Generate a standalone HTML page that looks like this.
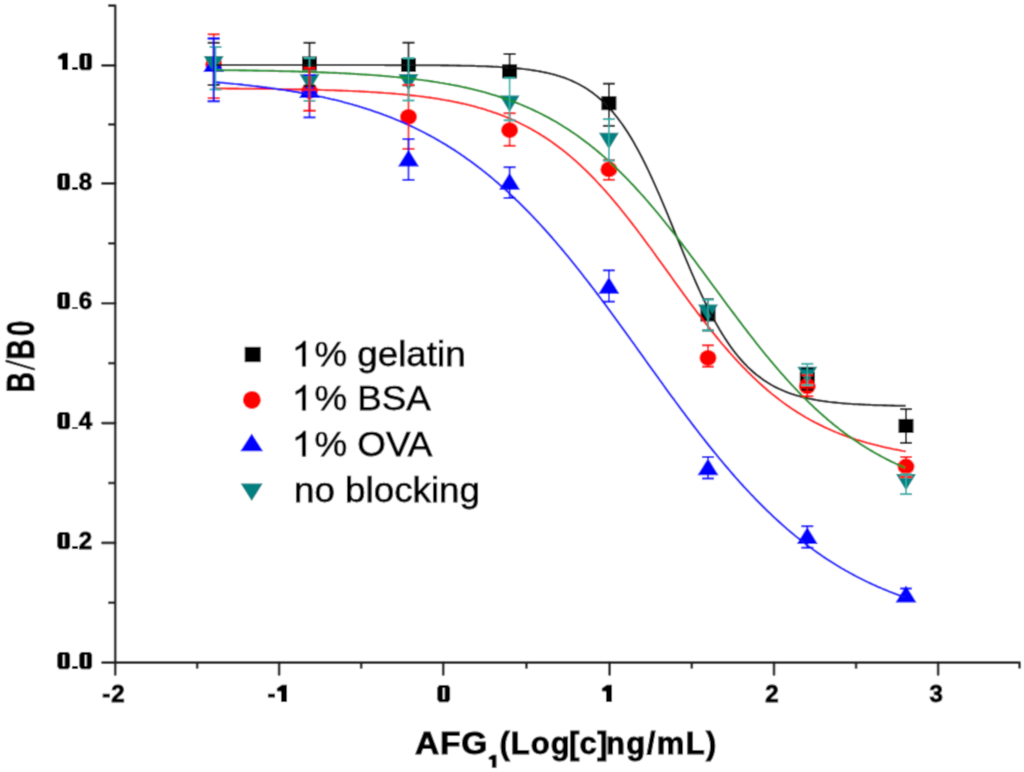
<!DOCTYPE html>
<html><head><meta charset="utf-8"><style>
html,body{margin:0;padding:0;background:#fff;}
body{width:1024px;height:772px;position:relative;overflow:hidden;font-family:"Liberation Sans",sans-serif;}
svg{position:absolute;left:0;top:0;}
.yl{position:absolute;left:21.2px;width:72px;text-align:right;font-weight:bold;font-size:24px;line-height:24px;color:#000;-webkit-text-stroke:1px #000;letter-spacing:1px;}
.xl{position:absolute;top:681.5px;width:80px;text-align:center;font-weight:bold;font-size:24px;line-height:24px;color:#000;-webkit-text-stroke:1px #000;letter-spacing:1px;text-indent:1px;}
.lg{position:absolute;left:294px;font-size:35px;line-height:35px;color:#000;-webkit-text-stroke:0.75px #000;transform:scaleX(1.05);transform-origin:0 0;white-space:nowrap;}
.t{position:absolute;top:727.5px;font-weight:bold;font-size:31px;line-height:31px;color:#000;white-space:nowrap;-webkit-text-stroke:1px #000;transform-origin:0 0;}
#wrap{position:absolute;left:0;top:0;width:1024px;height:772px;background:#fff;filter:url(#soft);}
</style></head><body>
<svg width="0" height="0" style="position:absolute;left:0;top:0"><filter id="soft" x="0" y="0" width="100%" height="100%"><feConvolveMatrix order="3" kernelMatrix="0.02768 0.11101 0.02768 0.11101 0.44521 0.11101 0.02768 0.11101 0.02768" divisor="1" edgeMode="duplicate"/></filter></svg>
<div id="wrap">
<svg width="1024" height="772" viewBox="0 0 1024 772">
<path d="M108.2,5.6 H115.2 V662.6 H1019.5 V668.6" fill="none" stroke="#222" stroke-width="2.6" stroke-linejoin="round"/>
<line x1="102.4" y1="662.6" x2="115.2" y2="662.6" stroke="#222" stroke-width="2.6" stroke-linecap="round"/>
<line x1="102.4" y1="542.9" x2="115.2" y2="542.9" stroke="#222" stroke-width="2.6" stroke-linecap="round"/>
<line x1="102.4" y1="423.1" x2="115.2" y2="423.1" stroke="#222" stroke-width="2.6" stroke-linecap="round"/>
<line x1="102.4" y1="303.2" x2="115.2" y2="303.2" stroke="#222" stroke-width="2.6" stroke-linecap="round"/>
<line x1="102.4" y1="183.4" x2="115.2" y2="183.4" stroke="#222" stroke-width="2.6" stroke-linecap="round"/>
<line x1="102.4" y1="65.4" x2="115.2" y2="65.4" stroke="#222" stroke-width="2.6" stroke-linecap="round"/>
<line x1="108.2" y1="124.4" x2="115.2" y2="124.4" stroke="#222" stroke-width="2.6"/>
<line x1="108.2" y1="243.3" x2="115.2" y2="243.3" stroke="#222" stroke-width="2.6"/>
<line x1="108.2" y1="363.15" x2="115.2" y2="363.15" stroke="#222" stroke-width="2.6"/>
<line x1="108.2" y1="483.0" x2="115.2" y2="483.0" stroke="#222" stroke-width="2.6"/>
<line x1="108.2" y1="602.75" x2="115.2" y2="602.75" stroke="#222" stroke-width="2.6"/>
<line x1="115.2" y1="662.6" x2="115.2" y2="674.6" stroke="#222" stroke-width="2.6" stroke-linecap="round"/>
<line x1="279.1" y1="662.6" x2="279.1" y2="674.6" stroke="#222" stroke-width="2.6" stroke-linecap="round"/>
<line x1="443.2" y1="662.6" x2="443.2" y2="674.6" stroke="#222" stroke-width="2.6" stroke-linecap="round"/>
<line x1="609.6" y1="662.6" x2="609.6" y2="674.6" stroke="#222" stroke-width="2.6" stroke-linecap="round"/>
<line x1="774.0" y1="662.6" x2="774.0" y2="674.6" stroke="#222" stroke-width="2.6" stroke-linecap="round"/>
<line x1="938.1" y1="662.6" x2="938.1" y2="674.6" stroke="#222" stroke-width="2.6" stroke-linecap="round"/>
<line x1="197.15" y1="662.6" x2="197.15" y2="668.6" stroke="#222" stroke-width="2.6"/>
<line x1="361.15" y1="662.6" x2="361.15" y2="668.6" stroke="#222" stroke-width="2.6"/>
<line x1="526.4" y1="662.6" x2="526.4" y2="668.6" stroke="#222" stroke-width="2.6"/>
<line x1="691.8" y1="662.6" x2="691.8" y2="668.6" stroke="#222" stroke-width="2.6"/>
<line x1="856.05" y1="662.6" x2="856.05" y2="668.6" stroke="#222" stroke-width="2.6"/>
<rect x="206.2" y="57.400000000000006" width="15" height="14" fill="#000"/>
<rect x="302.0" y="56.5" width="15" height="14" fill="#000"/>
<rect x="401.0" y="58.0" width="15" height="14" fill="#000"/>
<rect x="502.1" y="64.3" width="15" height="14" fill="#000"/>
<rect x="601.4" y="96.2" width="15" height="14" fill="#000"/>
<rect x="700.5" y="307.5" width="15" height="14" fill="#000"/>
<rect x="799.8" y="372.0" width="15" height="14" fill="#000"/>
<rect x="898.5" y="418.9" width="15" height="14" fill="#000"/>
<ellipse cx="213.7" cy="64.4" rx="8.5" ry="7.9" fill="#f00"/>
<ellipse cx="309.5" cy="91.0" rx="8.5" ry="7.9" fill="#f00"/>
<ellipse cx="408.5" cy="116.8" rx="8.5" ry="7.9" fill="#f00"/>
<ellipse cx="509.6" cy="130.2" rx="8.5" ry="7.9" fill="#f00"/>
<ellipse cx="608.9" cy="169.4" rx="8.5" ry="7.9" fill="#f00"/>
<ellipse cx="708.0" cy="357.9" rx="8.5" ry="7.9" fill="#f00"/>
<ellipse cx="807.3" cy="386.3" rx="8.5" ry="7.9" fill="#f00"/>
<ellipse cx="906.0" cy="466.5" rx="8.5" ry="7.9" fill="#f00"/>
<polygon points="213.7,55.0 224.2,72.0 203.2,72.0" fill="#00f"/>
<polygon points="309.5,81.0 320.0,98.0 299.0,98.0" fill="#00f"/>
<polygon points="408.5,149.6 419.0,166.6 398.0,166.6" fill="#00f"/>
<polygon points="509.6,172.8 520.1,189.8 499.1,189.8" fill="#00f"/>
<polygon points="608.9,276.7 619.4,293.7 598.4,293.7" fill="#00f"/>
<polygon points="708.0,458.2 718.5,475.2 697.5,475.2" fill="#00f"/>
<polygon points="807.3,527.0 817.8,544.0 796.8,544.0" fill="#00f"/>
<polygon points="906.0,585.5 916.5,602.5 895.5,602.5" fill="#00f"/>
<polygon points="203.7,56.0 223.7,56.0 213.7,72.5" fill="#008080"/>
<polygon points="299.5,74.3 319.5,74.3 309.5,90.8" fill="#008080"/>
<polygon points="398.5,74.0 418.5,74.0 408.5,90.5" fill="#008080"/>
<polygon points="499.6,95.6 519.6,95.6 509.6,112.1" fill="#008080"/>
<polygon points="598.9,132.8 618.9,132.8 608.9,149.3" fill="#008080"/>
<polygon points="698.0,304.6 718.0,304.6 708.0,321.1" fill="#008080"/>
<polygon points="797.3,366.7 817.3,366.7 807.3,383.2" fill="#008080"/>
<polygon points="896.0,474.0 916.0,474.0 906.0,490.5" fill="#008080"/>
<polyline points="213.7,65.0 215.7,65.0 217.7,65.0 219.7,65.0 221.7,65.0 223.7,65.0 225.7,65.0 227.7,65.0 229.7,65.0 231.7,65.0 233.7,65.0 235.7,65.0 237.7,65.0 239.7,65.0 241.7,65.0 243.7,65.0 245.7,65.0 247.7,65.0 249.7,65.0 251.7,65.0 253.7,65.0 255.7,65.0 257.7,65.0 259.7,65.0 261.7,65.0 263.7,65.0 265.7,65.0 267.7,65.0 269.7,65.0 271.7,65.0 273.7,65.0 275.7,65.0 277.7,65.0 279.7,65.0 281.7,65.0 283.7,65.0 285.7,65.0 287.7,65.0 289.7,65.0 291.7,65.0 293.7,65.0 295.7,65.0 297.7,65.0 299.7,65.0 301.7,65.0 303.7,65.0 305.7,65.0 307.7,65.0 309.7,65.0 311.7,65.0 313.7,65.0 315.7,65.0 317.7,65.0 319.7,65.0 321.7,65.0 323.7,65.0 325.7,65.0 327.7,65.0 329.7,65.0 331.7,65.0 333.7,65.0 335.7,65.0 337.7,65.0 339.7,65.0 341.7,65.0 343.7,65.0 345.7,65.0 347.7,65.0 349.7,65.0 351.7,65.0 353.7,65.0 355.7,65.0 357.7,65.0 359.7,65.0 361.7,65.0 363.7,65.0 365.7,65.0 367.7,65.0 369.7,65.0 371.7,65.0 373.7,65.0 375.7,65.0 377.7,65.0 379.7,65.0 381.7,65.0 383.7,65.0 385.7,65.1 387.7,65.1 389.7,65.1 391.7,65.1 393.7,65.1 395.7,65.1 397.7,65.1 399.7,65.1 401.7,65.1 403.7,65.1 405.7,65.1 407.7,65.1 409.7,65.1 411.7,65.1 413.7,65.1 415.7,65.2 417.7,65.2 419.7,65.2 421.7,65.2 423.7,65.2 425.7,65.2 427.7,65.2 429.7,65.2 431.7,65.3 433.7,65.3 435.7,65.3 437.7,65.3 439.7,65.3 441.7,65.4 443.7,65.4 445.7,65.4 447.7,65.4 449.7,65.5 451.7,65.5 453.7,65.5 455.7,65.5 457.7,65.6 459.7,65.6 461.7,65.7 463.7,65.7 465.7,65.7 467.7,65.8 469.7,65.8 471.7,65.9 473.7,65.9 475.7,66.0 477.7,66.1 479.7,66.1 481.7,66.2 483.7,66.3 485.7,66.3 487.7,66.4 489.7,66.5 491.7,66.6 493.7,66.7 495.7,66.8 497.7,66.9 499.7,67.0 501.7,67.1 503.7,67.3 505.7,67.4 507.7,67.5 509.7,67.7 511.7,67.8 513.7,68.0 515.7,68.2 517.7,68.4 519.7,68.6 521.7,68.8 523.7,69.0 525.7,69.3 527.7,69.5 529.7,69.8 531.7,70.1 533.7,70.4 535.7,70.7 537.7,71.0 539.7,71.4 541.7,71.8 543.7,72.2 545.7,72.6 547.7,73.0 549.7,73.5 551.7,74.0 553.7,74.5 555.7,75.1 557.7,75.7 559.7,76.3 561.7,76.9 563.7,77.6 565.7,78.3 567.7,79.1 569.7,79.9 571.7,80.8 573.7,81.7 575.7,82.6 577.7,83.6 579.7,84.7 581.7,85.8 583.7,86.9 585.7,88.2 587.7,89.4 589.7,90.8 591.7,92.2 593.7,93.7 595.7,95.3 597.7,96.9 599.7,98.6 601.7,100.4 603.7,102.3 605.7,104.3 607.7,106.4 609.7,108.5 611.7,110.8 613.7,113.1 615.7,115.6 617.7,118.1 619.7,120.8 621.7,123.5 623.7,126.4 625.7,129.4 627.7,132.4 629.7,135.6 631.7,138.9 633.7,142.3 635.7,145.9 637.7,149.5 639.7,153.2 641.7,157.0 643.7,161.0 645.7,165.0 647.7,169.1 649.7,173.4 651.7,177.7 653.7,182.1 655.7,186.6 657.7,191.1 659.7,195.7 661.7,200.4 663.7,205.1 665.7,209.9 667.7,214.7 669.7,219.6 671.7,224.5 673.7,229.4 675.7,234.3 677.7,239.2 679.7,244.1 681.7,248.9 683.7,253.8 685.7,258.6 687.7,263.4 689.7,268.1 691.7,272.8 693.7,277.4 695.7,282.0 697.7,286.5 699.7,290.9 701.7,295.2 703.7,299.4 705.7,303.6 707.7,307.6 709.7,311.6 711.7,315.4 713.7,319.2 715.7,322.8 717.7,326.3 719.7,329.8 721.7,333.1 723.7,336.3 725.7,339.4 727.7,342.4 729.7,345.3 731.7,348.1 733.7,350.8 735.7,353.4 737.7,355.9 739.7,358.2 741.7,360.5 743.7,362.7 745.7,364.8 747.7,366.9 749.7,368.8 751.7,370.6 753.7,372.4 755.7,374.1 757.7,375.7 759.7,377.2 761.7,378.7 763.7,380.1 765.7,381.4 767.7,382.7 769.7,383.9 771.7,385.1 773.7,386.2 775.7,387.2 777.7,388.2 779.7,389.1 781.7,390.0 783.7,390.9 785.7,391.7 787.7,392.5 789.7,393.2 791.7,393.9 793.7,394.5 795.7,395.2 797.7,395.8 799.7,396.3 801.7,396.9 803.7,397.4 805.7,397.8 807.7,398.3 809.7,398.7 811.7,399.1 813.7,399.5 815.7,399.9 817.7,400.2 819.7,400.6 821.7,400.9 823.7,401.2 825.7,401.4 827.7,401.7 829.7,402.0 831.7,402.2 833.7,402.4 835.7,402.6 837.7,402.8 839.7,403.0 841.7,403.2 843.7,403.4 845.7,403.5 847.7,403.7 849.7,403.8 851.7,404.0 853.7,404.1 855.7,404.2 857.7,404.3 859.7,404.4 861.7,404.5 863.7,404.6 865.7,404.7 867.7,404.8 869.7,404.9 871.7,405.0 873.7,405.1 875.7,405.1 877.7,405.2 879.7,405.3 881.7,405.3 883.7,405.4 885.7,405.4 887.7,405.5 889.7,405.5 891.7,405.6 893.7,405.6 895.7,405.7 897.7,405.7 899.7,405.7 901.7,405.8 903.7,405.8 905.7,405.8" fill="none" stroke="#111" stroke-width="2.1" stroke-linejoin="round"/>
<polyline points="213.7,88.5 215.7,88.5 217.7,88.5 219.7,88.5 221.7,88.5 223.7,88.5 225.7,88.5 227.7,88.6 229.7,88.6 231.7,88.6 233.7,88.6 235.7,88.6 237.7,88.6 239.7,88.7 241.7,88.7 243.7,88.7 245.7,88.7 247.7,88.7 249.7,88.7 251.7,88.8 253.7,88.8 255.7,88.8 257.7,88.8 259.7,88.8 261.7,88.9 263.7,88.9 265.7,88.9 267.7,88.9 269.7,89.0 271.7,89.0 273.7,89.0 275.7,89.0 277.7,89.1 279.7,89.1 281.7,89.1 283.7,89.2 285.7,89.2 287.7,89.2 289.7,89.3 291.7,89.3 293.7,89.3 295.7,89.4 297.7,89.4 299.7,89.4 301.7,89.5 303.7,89.5 305.7,89.6 307.7,89.6 309.7,89.7 311.7,89.7 313.7,89.8 315.7,89.8 317.7,89.9 319.7,89.9 321.7,90.0 323.7,90.0 325.7,90.1 327.7,90.1 329.7,90.2 331.7,90.3 333.7,90.3 335.7,90.4 337.7,90.5 339.7,90.6 341.7,90.6 343.7,90.7 345.7,90.8 347.7,90.9 349.7,91.0 351.7,91.0 353.7,91.1 355.7,91.2 357.7,91.3 359.7,91.4 361.7,91.5 363.7,91.6 365.7,91.7 367.7,91.8 369.7,92.0 371.7,92.1 373.7,92.2 375.7,92.3 377.7,92.5 379.7,92.6 381.7,92.7 383.7,92.9 385.7,93.0 387.7,93.2 389.7,93.3 391.7,93.5 393.7,93.6 395.7,93.8 397.7,94.0 399.7,94.2 401.7,94.3 403.7,94.5 405.7,94.7 407.7,94.9 409.7,95.1 411.7,95.4 413.7,95.6 415.7,95.8 417.7,96.0 419.7,96.3 421.7,96.5 423.7,96.8 425.7,97.1 427.7,97.3 429.7,97.6 431.7,97.9 433.7,98.2 435.7,98.5 437.7,98.8 439.7,99.1 441.7,99.5 443.7,99.8 445.7,100.2 447.7,100.5 449.7,100.9 451.7,101.3 453.7,101.7 455.7,102.1 457.7,102.5 459.7,102.9 461.7,103.4 463.7,103.8 465.7,104.3 467.7,104.8 469.7,105.3 471.7,105.8 473.7,106.3 475.7,106.8 477.7,107.4 479.7,107.9 481.7,108.5 483.7,109.1 485.7,109.7 487.7,110.4 489.7,111.0 491.7,111.7 493.7,112.4 495.7,113.1 497.7,113.8 499.7,114.5 501.7,115.3 503.7,116.1 505.7,116.9 507.7,117.7 509.7,118.5 511.7,119.4 513.7,120.3 515.7,121.2 517.7,122.1 519.7,123.1 521.7,124.1 523.7,125.1 525.7,126.1 527.7,127.2 529.7,128.2 531.7,129.3 533.7,130.5 535.7,131.6 537.7,132.8 539.7,134.0 541.7,135.3 543.7,136.5 545.7,137.8 547.7,139.2 549.7,140.5 551.7,141.9 553.7,143.3 555.7,144.8 557.7,146.3 559.7,147.8 561.7,149.3 563.7,150.9 565.7,152.5 567.7,154.1 569.7,155.8 571.7,157.5 573.7,159.2 575.7,161.0 577.7,162.8 579.7,164.6 581.7,166.5 583.7,168.4 585.7,170.3 587.7,172.3 589.7,174.3 591.7,176.3 593.7,178.3 595.7,180.4 597.7,182.6 599.7,184.7 601.7,186.9 603.7,189.1 605.7,191.3 607.7,193.6 609.7,195.9 611.7,198.2 613.7,200.6 615.7,203.0 617.7,205.4 619.7,207.8 621.7,210.3 623.7,212.8 625.7,215.3 627.7,217.8 629.7,220.4 631.7,223.0 633.7,225.6 635.7,228.2 637.7,230.8 639.7,233.5 641.7,236.2 643.7,238.9 645.7,241.6 647.7,244.3 649.7,247.0 651.7,249.7 653.7,252.5 655.7,255.3 657.7,258.0 659.7,260.8 661.7,263.6 663.7,266.3 665.7,269.1 667.7,271.9 669.7,274.7 671.7,277.5 673.7,280.3 675.7,283.0 677.7,285.8 679.7,288.6 681.7,291.3 683.7,294.1 685.7,296.8 687.7,299.5 689.7,302.3 691.7,305.0 693.7,307.6 695.7,310.3 697.7,313.0 699.7,315.6 701.7,318.2 703.7,320.8 705.7,323.4 707.7,326.0 709.7,328.5 711.7,331.0 713.7,333.5 715.7,336.0 717.7,338.5 719.7,340.9 721.7,343.3 723.7,345.7 725.7,348.0 727.7,350.3 729.7,352.6 731.7,354.9 733.7,357.1 735.7,359.3 737.7,361.5 739.7,363.6 741.7,365.7 743.7,367.8 745.7,369.8 747.7,371.9 749.7,373.8 751.7,375.8 753.7,377.7 755.7,379.6 757.7,381.5 759.7,383.3 761.7,385.1 763.7,386.9 765.7,388.6 767.7,390.4 769.7,392.0 771.7,393.7 773.7,395.3 775.7,396.9 777.7,398.4 779.7,400.0 781.7,401.5 783.7,403.0 785.7,404.4 787.7,405.8 789.7,407.2 791.7,408.6 793.7,409.9 795.7,411.2 797.7,412.5 799.7,413.7 801.7,414.9 803.7,416.1 805.7,417.3 807.7,418.4 809.7,419.6 811.7,420.7 813.7,421.7 815.7,422.8 817.7,423.8 819.7,424.8 821.7,425.8 823.7,426.8 825.7,427.7 827.7,428.6 829.7,429.5 831.7,430.4 833.7,431.2 835.7,432.1 837.7,432.9 839.7,433.7 841.7,434.4 843.7,435.2 845.7,435.9 847.7,436.7 849.7,437.4 851.7,438.1 853.7,438.7 855.7,439.4 857.7,440.0 859.7,440.6 861.7,441.2 863.7,441.8 865.7,442.4 867.7,443.0 869.7,443.5 871.7,444.1 873.7,444.6 875.7,445.1 877.7,445.6 879.7,446.1 881.7,446.6 883.7,447.0 885.7,447.5 887.7,447.9 889.7,448.3 891.7,448.7 893.7,449.2 895.7,449.5 897.7,449.9 899.7,450.3 901.7,450.7 903.7,451.0 905.7,451.4" fill="none" stroke="#ff1010" stroke-width="2.1" stroke-linejoin="round"/>
<polyline points="213.7,82.1 215.7,82.3 217.7,82.4 219.7,82.6 221.7,82.8 223.7,82.9 225.7,83.1 227.7,83.3 229.7,83.5 231.7,83.7 233.7,83.9 235.7,84.0 237.7,84.2 239.7,84.4 241.7,84.6 243.7,84.9 245.7,85.1 247.7,85.3 249.7,85.5 251.7,85.7 253.7,86.0 255.7,86.2 257.7,86.4 259.7,86.7 261.7,86.9 263.7,87.2 265.7,87.4 267.7,87.7 269.7,87.9 271.7,88.2 273.7,88.5 275.7,88.8 277.7,89.1 279.7,89.4 281.7,89.7 283.7,90.0 285.7,90.3 287.7,90.6 289.7,90.9 291.7,91.2 293.7,91.6 295.7,91.9 297.7,92.2 299.7,92.6 301.7,92.9 303.7,93.3 305.7,93.7 307.7,94.1 309.7,94.4 311.7,94.8 313.7,95.2 315.7,95.6 317.7,96.0 319.7,96.5 321.7,96.9 323.7,97.3 325.7,97.8 327.7,98.2 329.7,98.7 331.7,99.2 333.7,99.6 335.7,100.1 337.7,100.6 339.7,101.1 341.7,101.6 343.7,102.2 345.7,102.7 347.7,103.2 349.7,103.8 351.7,104.3 353.7,104.9 355.7,105.5 357.7,106.1 359.7,106.7 361.7,107.3 363.7,107.9 365.7,108.5 367.7,109.2 369.7,109.8 371.7,110.5 373.7,111.2 375.7,111.9 377.7,112.6 379.7,113.3 381.7,114.0 383.7,114.8 385.7,115.5 387.7,116.3 389.7,117.0 391.7,117.8 393.7,118.6 395.7,119.5 397.7,120.3 399.7,121.1 401.7,122.0 403.7,122.9 405.7,123.7 407.7,124.6 409.7,125.6 411.7,126.5 413.7,127.4 415.7,128.4 417.7,129.4 419.7,130.4 421.7,131.4 423.7,132.4 425.7,133.4 427.7,134.5 429.7,135.5 431.7,136.6 433.7,137.7 435.7,138.9 437.7,140.0 439.7,141.2 441.7,142.3 443.7,143.5 445.7,144.7 447.7,146.0 449.7,147.2 451.7,148.5 453.7,149.7 455.7,151.0 457.7,152.4 459.7,153.7 461.7,155.1 463.7,156.4 465.7,157.8 467.7,159.3 469.7,160.7 471.7,162.1 473.7,163.6 475.7,165.1 477.7,166.6 479.7,168.2 481.7,169.7 483.7,171.3 485.7,172.9 487.7,174.5 489.7,176.1 491.7,177.8 493.7,179.5 495.7,181.2 497.7,182.9 499.7,184.7 501.7,186.4 503.7,188.2 505.7,190.0 507.7,191.8 509.7,193.7 511.7,195.6 513.7,197.4 515.7,199.4 517.7,201.3 519.7,203.2 521.7,205.2 523.7,207.2 525.7,209.2 527.7,211.3 529.7,213.3 531.7,215.4 533.7,217.5 535.7,219.6 537.7,221.8 539.7,223.9 541.7,226.1 543.7,228.3 545.7,230.5 547.7,232.8 549.7,235.0 551.7,237.3 553.7,239.6 555.7,241.9 557.7,244.3 559.7,246.6 561.7,249.0 563.7,251.4 565.7,253.8 567.7,256.2 569.7,258.7 571.7,261.1 573.7,263.6 575.7,266.1 577.7,268.6 579.7,271.2 581.7,273.7 583.7,276.3 585.7,278.8 587.7,281.4 589.7,284.0 591.7,286.6 593.7,289.2 595.7,291.9 597.7,294.5 599.7,297.2 601.7,299.9 603.7,302.5 605.7,305.2 607.7,307.9 609.7,310.7 611.7,313.4 613.7,316.1 615.7,318.8 617.7,321.6 619.7,324.3 621.7,327.1 623.7,329.9 625.7,332.6 627.7,335.4 629.7,338.2 631.7,341.0 633.7,343.7 635.7,346.5 637.7,349.3 639.7,352.1 641.7,354.9 643.7,357.7 645.7,360.5 647.7,363.3 649.7,366.1 651.7,368.9 653.7,371.6 655.7,374.4 657.7,377.2 659.7,380.0 661.7,382.7 663.7,385.5 665.7,388.3 667.7,391.0 669.7,393.8 671.7,396.5 673.7,399.2 675.7,402.0 677.7,404.7 679.7,407.4 681.7,410.1 683.7,412.7 685.7,415.4 687.7,418.1 689.7,420.7 691.7,423.4 693.7,426.0 695.7,428.6 697.7,431.2 699.7,433.8 701.7,436.4 703.7,438.9 705.7,441.5 707.7,444.0 709.7,446.5 711.7,449.0 713.7,451.5 715.7,453.9 717.7,456.4 719.7,458.8 721.7,461.2 723.7,463.6 725.7,466.0 727.7,468.3 729.7,470.7 731.7,473.0 733.7,475.3 735.7,477.6 737.7,479.8 739.7,482.1 741.7,484.3 743.7,486.5 745.7,488.6 747.7,490.8 749.7,492.9 751.7,495.1 753.7,497.1 755.7,499.2 757.7,501.3 759.7,503.3 761.7,505.3 763.7,507.3 765.7,509.3 767.7,511.2 769.7,513.1 771.7,515.0 773.7,516.9 775.7,518.8 777.7,520.6 779.7,522.4 781.7,524.2 783.7,526.0 785.7,527.7 787.7,529.5 789.7,531.2 791.7,532.9 793.7,534.5 795.7,536.2 797.7,537.8 799.7,539.4 801.7,541.0 803.7,542.5 805.7,544.1 807.7,545.6 809.7,547.1 811.7,548.5 813.7,550.0 815.7,551.4 817.7,552.8 819.7,554.2 821.7,555.6 823.7,557.0 825.7,558.3 827.7,559.6 829.7,560.9 831.7,562.2 833.7,563.4 835.7,564.7 837.7,565.9 839.7,567.1 841.7,568.3 843.7,569.4 845.7,570.6 847.7,571.7 849.7,572.8 851.7,573.9 853.7,575.0 855.7,576.1 857.7,577.1 859.7,578.1 861.7,579.1 863.7,580.1 865.7,581.1 867.7,582.1 869.7,583.0 871.7,584.0 873.7,584.9 875.7,585.8 877.7,586.7 879.7,587.5 881.7,588.4 883.7,589.2 885.7,590.0 887.7,590.9 889.7,591.7 891.7,592.4 893.7,593.2 895.7,594.0 897.7,594.7 899.7,595.4 901.7,596.2 903.7,596.9 905.7,597.6" fill="none" stroke="#1010ff" stroke-width="2.1" stroke-linejoin="round"/>
<polyline points="213.7,70.0 215.7,70.1 217.7,70.1 219.7,70.1 221.7,70.1 223.7,70.2 225.7,70.2 227.7,70.2 229.7,70.2 231.7,70.3 233.7,70.3 235.7,70.3 237.7,70.3 239.7,70.4 241.7,70.4 243.7,70.4 245.7,70.4 247.7,70.5 249.7,70.5 251.7,70.5 253.7,70.6 255.7,70.6 257.7,70.6 259.7,70.7 261.7,70.7 263.7,70.7 265.7,70.8 267.7,70.8 269.7,70.9 271.7,70.9 273.7,70.9 275.7,71.0 277.7,71.0 279.7,71.1 281.7,71.1 283.7,71.2 285.7,71.2 287.7,71.3 289.7,71.3 291.7,71.4 293.7,71.4 295.7,71.5 297.7,71.5 299.7,71.6 301.7,71.7 303.7,71.7 305.7,71.8 307.7,71.9 309.7,71.9 311.7,72.0 313.7,72.1 315.7,72.1 317.7,72.2 319.7,72.3 321.7,72.4 323.7,72.4 325.7,72.5 327.7,72.6 329.7,72.7 331.7,72.8 333.7,72.9 335.7,72.9 337.7,73.0 339.7,73.1 341.7,73.2 343.7,73.3 345.7,73.4 347.7,73.5 349.7,73.6 351.7,73.8 353.7,73.9 355.7,74.0 357.7,74.1 359.7,74.2 361.7,74.4 363.7,74.5 365.7,74.6 367.7,74.8 369.7,74.9 371.7,75.0 373.7,75.2 375.7,75.3 377.7,75.5 379.7,75.6 381.7,75.8 383.7,76.0 385.7,76.1 387.7,76.3 389.7,76.5 391.7,76.7 393.7,76.9 395.7,77.0 397.7,77.2 399.7,77.4 401.7,77.6 403.7,77.9 405.7,78.1 407.7,78.3 409.7,78.5 411.7,78.8 413.7,79.0 415.7,79.2 417.7,79.5 419.7,79.7 421.7,80.0 423.7,80.3 425.7,80.5 427.7,80.8 429.7,81.1 431.7,81.4 433.7,81.7 435.7,82.0 437.7,82.3 439.7,82.7 441.7,83.0 443.7,83.3 445.7,83.7 447.7,84.0 449.7,84.4 451.7,84.8 453.7,85.1 455.7,85.5 457.7,85.9 459.7,86.3 461.7,86.8 463.7,87.2 465.7,87.6 467.7,88.1 469.7,88.5 471.7,89.0 473.7,89.5 475.7,90.0 477.7,90.5 479.7,91.0 481.7,91.5 483.7,92.1 485.7,92.6 487.7,93.2 489.7,93.8 491.7,94.4 493.7,95.0 495.7,95.6 497.7,96.2 499.7,96.9 501.7,97.5 503.7,98.2 505.7,98.9 507.7,99.6 509.7,100.3 511.7,101.0 513.7,101.8 515.7,102.5 517.7,103.3 519.7,104.1 521.7,104.9 523.7,105.8 525.7,106.6 527.7,107.5 529.7,108.4 531.7,109.3 533.7,110.2 535.7,111.2 537.7,112.1 539.7,113.1 541.7,114.1 543.7,115.2 545.7,116.2 547.7,117.3 549.7,118.3 551.7,119.5 553.7,120.6 555.7,121.7 557.7,122.9 559.7,124.1 561.7,125.3 563.7,126.6 565.7,127.8 567.7,129.1 569.7,130.4 571.7,131.8 573.7,133.1 575.7,134.5 577.7,135.9 579.7,137.4 581.7,138.8 583.7,140.3 585.7,141.8 587.7,143.3 589.7,144.9 591.7,146.5 593.7,148.1 595.7,149.7 597.7,151.4 599.7,153.1 601.7,154.8 603.7,156.5 605.7,158.3 607.7,160.1 609.7,161.9 611.7,163.8 613.7,165.7 615.7,167.6 617.7,169.5 619.7,171.4 621.7,173.4 623.7,175.4 625.7,177.4 627.7,179.5 629.7,181.6 631.7,183.7 633.7,185.8 635.7,188.0 637.7,190.2 639.7,192.4 641.7,194.6 643.7,196.8 645.7,199.1 647.7,201.4 649.7,203.7 651.7,206.1 653.7,208.4 655.7,210.8 657.7,213.2 659.7,215.7 661.7,218.1 663.7,220.6 665.7,223.1 667.7,225.6 669.7,228.1 671.7,230.6 673.7,233.2 675.7,235.7 677.7,238.3 679.7,240.9 681.7,243.5 683.7,246.2 685.7,248.8 687.7,251.4 689.7,254.1 691.7,256.8 693.7,259.4 695.7,262.1 697.7,264.8 699.7,267.5 701.7,270.2 703.7,272.9 705.7,275.6 707.7,278.3 709.7,281.1 711.7,283.8 713.7,286.5 715.7,289.2 717.7,291.9 719.7,294.7 721.7,297.4 723.7,300.1 725.7,302.8 727.7,305.5 729.7,308.2 731.7,310.9 733.7,313.5 735.7,316.2 737.7,318.9 739.7,321.5 741.7,324.2 743.7,326.8 745.7,329.4 747.7,332.0 749.7,334.6 751.7,337.2 753.7,339.7 755.7,342.3 757.7,344.8 759.7,347.3 761.7,349.8 763.7,352.3 765.7,354.8 767.7,357.2 769.7,359.6 771.7,362.0 773.7,364.4 775.7,366.7 777.7,369.1 779.7,371.4 781.7,373.7 783.7,375.9 785.7,378.2 787.7,380.4 789.7,382.6 791.7,384.8 793.7,386.9 795.7,389.0 797.7,391.1 799.7,393.2 801.7,395.3 803.7,397.3 805.7,399.3 807.7,401.3 809.7,403.2 811.7,405.1 813.7,407.0 815.7,408.9 817.7,410.7 819.7,412.6 821.7,414.3 823.7,416.1 825.7,417.8 827.7,419.6 829.7,421.3 831.7,422.9 833.7,424.6 835.7,426.2 837.7,427.7 839.7,429.3 841.7,430.8 843.7,432.4 845.7,433.8 847.7,435.3 849.7,436.7 851.7,438.2 853.7,439.5 855.7,440.9 857.7,442.2 859.7,443.6 861.7,444.9 863.7,446.1 865.7,447.4 867.7,448.6 869.7,449.8 871.7,451.0 873.7,452.2 875.7,453.3 877.7,454.4 879.7,455.5 881.7,456.6 883.7,457.6 885.7,458.7 887.7,459.7 889.7,460.7 891.7,461.7 893.7,462.6 895.7,463.6 897.7,464.5 899.7,465.4 901.7,466.3 903.7,467.1 905.7,468.0" fill="none" stroke="#158f20" stroke-width="2.1" stroke-linejoin="round"/>
<line x1="213.7" y1="42.8" x2="213.7" y2="85.0" stroke="#000" stroke-width="1.7"/><line x1="207.7" y1="42.8" x2="219.7" y2="42.8" stroke="#000" stroke-width="2.0"/><line x1="207.7" y1="85.0" x2="219.7" y2="85.0" stroke="#000" stroke-width="2.0"/>
<line x1="309.5" y1="42.8" x2="309.5" y2="85.8" stroke="#000" stroke-width="1.7"/><line x1="303.5" y1="42.8" x2="315.5" y2="42.8" stroke="#000" stroke-width="2.0"/><line x1="303.5" y1="85.8" x2="315.5" y2="85.8" stroke="#000" stroke-width="2.0"/>
<line x1="408.5" y1="42.7" x2="408.5" y2="85.3" stroke="#000" stroke-width="1.7"/><line x1="402.5" y1="42.7" x2="414.5" y2="42.7" stroke="#000" stroke-width="2.0"/><line x1="402.5" y1="85.3" x2="414.5" y2="85.3" stroke="#000" stroke-width="2.0"/>
<line x1="509.6" y1="54.0" x2="509.6" y2="78.0" stroke="#000" stroke-width="1.7"/><line x1="503.6" y1="54.0" x2="515.6" y2="54.0" stroke="#000" stroke-width="2.0"/><line x1="503.6" y1="78.0" x2="515.6" y2="78.0" stroke="#000" stroke-width="2.0"/>
<line x1="608.9" y1="83.69999999999999" x2="608.9" y2="125.9" stroke="#000" stroke-width="1.7"/><line x1="602.9" y1="83.69999999999999" x2="614.9" y2="83.69999999999999" stroke="#000" stroke-width="2.0"/><line x1="602.9" y1="125.9" x2="614.9" y2="125.9" stroke="#000" stroke-width="2.0"/>
<line x1="708.0" y1="299.1" x2="708.0" y2="330.5" stroke="#000" stroke-width="1.7"/><line x1="702.0" y1="299.1" x2="714.0" y2="299.1" stroke="#000" stroke-width="2.0"/><line x1="702.0" y1="330.5" x2="714.0" y2="330.5" stroke="#000" stroke-width="2.0"/>
<line x1="807.3" y1="368.4" x2="807.3" y2="389.6" stroke="#000" stroke-width="1.7"/><line x1="801.3" y1="368.4" x2="813.3" y2="368.4" stroke="#000" stroke-width="2.0"/><line x1="801.3" y1="389.6" x2="813.3" y2="389.6" stroke="#000" stroke-width="2.0"/>
<line x1="906.0" y1="409.1" x2="906.0" y2="442.9" stroke="#000" stroke-width="1.7"/><line x1="900.0" y1="409.1" x2="912.0" y2="409.1" stroke="#000" stroke-width="2.0"/><line x1="900.0" y1="442.9" x2="912.0" y2="442.9" stroke="#000" stroke-width="2.0"/>
<line x1="213.7" y1="34.300000000000004" x2="213.7" y2="98.1" stroke="#f00" stroke-width="1.7"/><line x1="207.7" y1="34.300000000000004" x2="219.7" y2="34.300000000000004" stroke="#f00" stroke-width="2.0"/><line x1="207.7" y1="98.1" x2="219.7" y2="98.1" stroke="#f00" stroke-width="2.0"/>
<line x1="309.5" y1="68.2" x2="309.5" y2="110.8" stroke="#f00" stroke-width="1.7"/><line x1="303.5" y1="68.2" x2="315.5" y2="68.2" stroke="#f00" stroke-width="2.0"/><line x1="303.5" y1="110.8" x2="315.5" y2="110.8" stroke="#f00" stroke-width="2.0"/>
<line x1="408.5" y1="84.9" x2="408.5" y2="148.9" stroke="#f00" stroke-width="1.7"/><line x1="402.5" y1="84.9" x2="414.5" y2="84.9" stroke="#f00" stroke-width="2.0"/><line x1="402.5" y1="148.9" x2="414.5" y2="148.9" stroke="#f00" stroke-width="2.0"/>
<line x1="509.6" y1="113.2" x2="509.6" y2="145.8" stroke="#f00" stroke-width="1.7"/><line x1="503.6" y1="113.2" x2="515.6" y2="113.2" stroke="#f00" stroke-width="2.0"/><line x1="503.6" y1="145.8" x2="515.6" y2="145.8" stroke="#f00" stroke-width="2.0"/>
<line x1="608.9" y1="160.2" x2="608.9" y2="179.8" stroke="#f00" stroke-width="1.7"/><line x1="602.9" y1="160.2" x2="614.9" y2="160.2" stroke="#f00" stroke-width="2.0"/><line x1="602.9" y1="179.8" x2="614.9" y2="179.8" stroke="#f00" stroke-width="2.0"/>
<line x1="708.0" y1="345.3" x2="708.0" y2="366.7" stroke="#f00" stroke-width="1.7"/><line x1="702.0" y1="345.3" x2="714.0" y2="345.3" stroke="#f00" stroke-width="2.0"/><line x1="702.0" y1="366.7" x2="714.0" y2="366.7" stroke="#f00" stroke-width="2.0"/>
<line x1="807.3" y1="375.3" x2="807.3" y2="396.2" stroke="#f00" stroke-width="1.7"/><line x1="801.3" y1="375.3" x2="813.3" y2="375.3" stroke="#f00" stroke-width="2.0"/><line x1="801.3" y1="396.2" x2="813.3" y2="396.2" stroke="#f00" stroke-width="2.0"/>
<line x1="906.0" y1="457.0" x2="906.0" y2="477.0" stroke="#f00" stroke-width="1.7"/><line x1="900.0" y1="457.0" x2="912.0" y2="457.0" stroke="#f00" stroke-width="2.0"/><line x1="900.0" y1="477.0" x2="912.0" y2="477.0" stroke="#f00" stroke-width="2.0"/>
<line x1="213.7" y1="38.49999999999999" x2="213.7" y2="101.19999999999999" stroke="#00f" stroke-width="1.7"/><line x1="207.7" y1="38.49999999999999" x2="219.7" y2="38.49999999999999" stroke="#00f" stroke-width="2.0"/><line x1="207.7" y1="101.19999999999999" x2="219.7" y2="101.19999999999999" stroke="#00f" stroke-width="2.0"/>
<line x1="309.5" y1="75.0" x2="309.5" y2="117.4" stroke="#00f" stroke-width="1.7"/><line x1="303.5" y1="75.0" x2="315.5" y2="75.0" stroke="#00f" stroke-width="2.0"/><line x1="303.5" y1="117.4" x2="315.5" y2="117.4" stroke="#00f" stroke-width="2.0"/>
<line x1="408.5" y1="139.1" x2="408.5" y2="179.9" stroke="#00f" stroke-width="1.7"/><line x1="402.5" y1="139.1" x2="414.5" y2="139.1" stroke="#00f" stroke-width="2.0"/><line x1="402.5" y1="179.9" x2="414.5" y2="179.9" stroke="#00f" stroke-width="2.0"/>
<line x1="509.6" y1="167.2" x2="509.6" y2="198.0" stroke="#00f" stroke-width="1.7"/><line x1="503.6" y1="167.2" x2="515.6" y2="167.2" stroke="#00f" stroke-width="2.0"/><line x1="503.6" y1="198.0" x2="515.6" y2="198.0" stroke="#00f" stroke-width="2.0"/>
<line x1="608.9" y1="270.35" x2="608.9" y2="301.65" stroke="#00f" stroke-width="1.7"/><line x1="602.9" y1="270.35" x2="614.9" y2="270.35" stroke="#00f" stroke-width="2.0"/><line x1="602.9" y1="301.65" x2="614.9" y2="301.65" stroke="#00f" stroke-width="2.0"/>
<line x1="708.0" y1="457.0" x2="708.0" y2="478.5" stroke="#00f" stroke-width="1.7"/><line x1="702.0" y1="457.0" x2="714.0" y2="457.0" stroke="#00f" stroke-width="2.0"/><line x1="702.0" y1="478.5" x2="714.0" y2="478.5" stroke="#00f" stroke-width="2.0"/>
<line x1="807.3" y1="526.2" x2="807.3" y2="547.7" stroke="#00f" stroke-width="1.7"/><line x1="801.3" y1="526.2" x2="813.3" y2="526.2" stroke="#00f" stroke-width="2.0"/><line x1="801.3" y1="547.7" x2="813.3" y2="547.7" stroke="#00f" stroke-width="2.0"/>
<line x1="906.0" y1="588.5" x2="906.0" y2="599.5" stroke="#00f" stroke-width="1.7"/><line x1="900.0" y1="588.5" x2="912.0" y2="588.5" stroke="#00f" stroke-width="2.0"/><line x1="900.0" y1="599.5" x2="912.0" y2="599.5" stroke="#00f" stroke-width="2.0"/>
<line x1="215.5" y1="47.0" x2="215.5" y2="89.5" stroke="#30b0a8" stroke-width="1.7"/><line x1="209.5" y1="47.0" x2="221.5" y2="47.0" stroke="#30b0a8" stroke-width="2.0"/><line x1="209.5" y1="89.5" x2="221.5" y2="89.5" stroke="#30b0a8" stroke-width="2.0"/>
<line x1="309.5" y1="57.900000000000006" x2="309.5" y2="100.9" stroke="#30b0a8" stroke-width="1.7"/><line x1="303.5" y1="57.900000000000006" x2="315.5" y2="57.900000000000006" stroke="#30b0a8" stroke-width="2.0"/><line x1="303.5" y1="100.9" x2="315.5" y2="100.9" stroke="#30b0a8" stroke-width="2.0"/>
<line x1="408.5" y1="58.099999999999994" x2="408.5" y2="100.5" stroke="#30b0a8" stroke-width="1.7"/><line x1="402.5" y1="58.099999999999994" x2="414.5" y2="58.099999999999994" stroke="#30b0a8" stroke-width="2.0"/><line x1="402.5" y1="100.5" x2="414.5" y2="100.5" stroke="#30b0a8" stroke-width="2.0"/>
<line x1="509.6" y1="78.1" x2="509.6" y2="120.30000000000001" stroke="#30b0a8" stroke-width="1.7"/><line x1="503.6" y1="78.1" x2="515.6" y2="78.1" stroke="#30b0a8" stroke-width="2.0"/><line x1="503.6" y1="120.30000000000001" x2="515.6" y2="120.30000000000001" stroke="#30b0a8" stroke-width="2.0"/>
<line x1="608.9" y1="119.10000000000001" x2="608.9" y2="160.5" stroke="#30b0a8" stroke-width="1.7"/><line x1="602.9" y1="119.10000000000001" x2="614.9" y2="119.10000000000001" stroke="#30b0a8" stroke-width="2.0"/><line x1="602.9" y1="160.5" x2="614.9" y2="160.5" stroke="#30b0a8" stroke-width="2.0"/>
<line x1="708.0" y1="299.55" x2="708.0" y2="330.45" stroke="#30b0a8" stroke-width="1.7"/><line x1="702.0" y1="299.55" x2="714.0" y2="299.55" stroke="#30b0a8" stroke-width="2.0"/><line x1="702.0" y1="330.45" x2="714.0" y2="330.45" stroke="#30b0a8" stroke-width="2.0"/>
<line x1="807.3" y1="363.85" x2="807.3" y2="385.15" stroke="#30b0a8" stroke-width="1.7"/><line x1="801.3" y1="363.85" x2="813.3" y2="363.85" stroke="#30b0a8" stroke-width="2.0"/><line x1="801.3" y1="385.15" x2="813.3" y2="385.15" stroke="#30b0a8" stroke-width="2.0"/>
<line x1="906.0" y1="474.3" x2="906.0" y2="494.09999999999997" stroke="#30b0a8" stroke-width="1.7"/><line x1="900.0" y1="474.3" x2="912.0" y2="474.3" stroke="#30b0a8" stroke-width="2.0"/><line x1="900.0" y1="494.09999999999997" x2="912.0" y2="494.09999999999997" stroke="#30b0a8" stroke-width="2.0"/>
<line x1="213.7" y1="38.49999999999999" x2="213.7" y2="101.19999999999999" stroke="#00f" stroke-width="1.7"/><line x1="207.7" y1="38.49999999999999" x2="219.7" y2="38.49999999999999" stroke="#00f" stroke-width="2.0"/><line x1="207.7" y1="101.19999999999999" x2="219.7" y2="101.19999999999999" stroke="#00f" stroke-width="2.0"/>
<line x1="309.5" y1="68.2" x2="309.5" y2="110.8" stroke="#f00" stroke-width="1.7"/><line x1="303.5" y1="68.2" x2="315.5" y2="68.2" stroke="#f00" stroke-width="2.0"/><line x1="303.5" y1="110.8" x2="315.5" y2="110.8" stroke="#f00" stroke-width="2.0"/>
<rect x="244.7" y="346.85" width="16" height="15.3" fill="#000"/>
<circle cx="251.9" cy="399.9" r="9" fill="#f00"/>
<polygon points="251.7,433.40000000000003 263.05,451.2 240.35,451.2" fill="#00f"/>
<polygon points="240.7,483.55 262.7,483.55 251.7,501.05" fill="#008080"/>
<text transform="translate(34.1,382.2) rotate(-90) scale(0.72,1)" text-anchor="middle" font-family="Liberation Sans" font-weight="bold" font-size="39.5" fill="#000" stroke="#000" stroke-width="0.8">B</text>
<text transform="translate(34.1,349.5) rotate(-90) scale(0.72,1)" text-anchor="middle" font-family="Liberation Sans" font-weight="bold" font-size="39.5" fill="#000" stroke="#000" stroke-width="0.8">B</text>
<text transform="translate(34.1,328.4) rotate(-90) scale(0.7,1)" text-anchor="middle" font-family="Liberation Sans" font-weight="bold" font-size="39.5" fill="#000" stroke="#000" stroke-width="0.8">0</text>
<line x1="6.5" y1="361" x2="34" y2="369.2" stroke="#000" stroke-width="2.4" stroke-linecap="round"/>
</svg>
<div class="yl" style="top:648.7px"><svg style="display:inline;position:static;vertical-align:baseline;overflow:visible;width:0.5562em;height:0.75em;margin-right:1px;" viewBox="0 -1536 1139 1536"><path transform="scale(1,-1)" d="M197 -25H947L1118 188V1230L947 1443H197L26 1230V188Z M495 256V1195H649V256Z" fill="#000" fill-rule="evenodd"/></svg><span style="display:inline-block;width:5.6px;height:2.6px;background:#000;margin:0 1.1px 0 1px;vertical-align:baseline"></span><svg style="display:inline;position:static;vertical-align:baseline;overflow:visible;width:0.5562em;height:0.75em;margin-right:1px;" viewBox="0 -1536 1139 1536"><path transform="scale(1,-1)" d="M197 -25H947L1118 188V1230L947 1443H197L26 1230V188Z M495 256V1195H649V256Z" fill="#000" fill-rule="evenodd"/></svg></div>
<div class="yl" style="top:528.9px"><svg style="display:inline;position:static;vertical-align:baseline;overflow:visible;width:0.5562em;height:0.75em;margin-right:1px;" viewBox="0 -1536 1139 1536"><path transform="scale(1,-1)" d="M197 -25H947L1118 188V1230L947 1443H197L26 1230V188Z M495 256V1195H649V256Z" fill="#000" fill-rule="evenodd"/></svg><span style="display:inline-block;width:5.6px;height:2.6px;background:#000;margin:0 1.1px 0 1px;vertical-align:baseline"></span>2</div>
<div class="yl" style="top:409.1px"><svg style="display:inline;position:static;vertical-align:baseline;overflow:visible;width:0.5562em;height:0.75em;margin-right:1px;" viewBox="0 -1536 1139 1536"><path transform="scale(1,-1)" d="M197 -25H947L1118 188V1230L947 1443H197L26 1230V188Z M495 256V1195H649V256Z" fill="#000" fill-rule="evenodd"/></svg><span style="display:inline-block;width:5.6px;height:2.6px;background:#000;margin:0 1.1px 0 1px;vertical-align:baseline"></span>4</div>
<div class="yl" style="top:289.3px"><svg style="display:inline;position:static;vertical-align:baseline;overflow:visible;width:0.5562em;height:0.75em;margin-right:1px;" viewBox="0 -1536 1139 1536"><path transform="scale(1,-1)" d="M197 -25H947L1118 188V1230L947 1443H197L26 1230V188Z M495 256V1195H649V256Z" fill="#000" fill-rule="evenodd"/></svg><span style="display:inline-block;width:5.6px;height:2.6px;background:#000;margin:0 1.1px 0 1px;vertical-align:baseline"></span>6</div>
<div class="yl" style="top:169.5px"><svg style="display:inline;position:static;vertical-align:baseline;overflow:visible;width:0.5562em;height:0.75em;margin-right:1px;" viewBox="0 -1536 1139 1536"><path transform="scale(1,-1)" d="M197 -25H947L1118 188V1230L947 1443H197L26 1230V188Z M495 256V1195H649V256Z" fill="#000" fill-rule="evenodd"/></svg><span style="display:inline-block;width:5.6px;height:2.6px;background:#000;margin:0 1.1px 0 1px;vertical-align:baseline"></span>8</div>
<div class="yl" style="top:49.7px"><svg style="display:inline;position:static;vertical-align:baseline;overflow:visible;width:0.5562em;height:0.75em;margin-right:1px;" viewBox="0 -1536 1139 1536"><path transform="scale(1,-1)" d="M934 0H431V890L72 920V1180L500 1466H934Z" fill="#000" fill-rule="evenodd"/></svg><span style="display:inline-block;width:5.6px;height:2.6px;background:#000;margin:0 1.1px 0 1px;vertical-align:baseline"></span><svg style="display:inline;position:static;vertical-align:baseline;overflow:visible;width:0.5562em;height:0.75em;margin-right:1px;" viewBox="0 -1536 1139 1536"><path transform="scale(1,-1)" d="M197 -25H947L1118 188V1230L947 1443H197L26 1230V188Z M495 256V1195H649V256Z" fill="#000" fill-rule="evenodd"/></svg></div>
<div class="xl" style="left:73.4px">-2</div>
<div class="xl" style="left:238.6px">-<svg style="display:inline;position:static;vertical-align:baseline;overflow:visible;width:0.5562em;height:0.75em;margin-right:1px;" viewBox="0 -1536 1139 1536"><path transform="scale(1,-1)" d="M934 0H431V890L72 920V1180L500 1466H934Z" fill="#000" fill-rule="evenodd"/></svg></div>
<div class="xl" style="left:403.2px"><svg style="display:inline;position:static;vertical-align:baseline;overflow:visible;width:0.5562em;height:0.75em;margin-right:1px;" viewBox="0 -1536 1139 1536"><path transform="scale(1,-1)" d="M197 -25H947L1118 188V1230L947 1443H197L26 1230V188Z M495 256V1195H649V256Z" fill="#000" fill-rule="evenodd"/></svg></div>
<div class="xl" style="left:567.8px"><svg style="display:inline;position:static;vertical-align:baseline;overflow:visible;width:0.5562em;height:0.75em;margin-right:1px;" viewBox="0 -1536 1139 1536"><path transform="scale(1,-1)" d="M934 0H431V890L72 920V1180L500 1466H934Z" fill="#000" fill-rule="evenodd"/></svg></div>
<div class="xl" style="left:732.0px">2</div>
<div class="xl" style="left:896.3px">3</div>

<div class="t" style="left:414.5px;transform:scaleX(1.08);letter-spacing:0.8px">AFG</div>
<div class="t" style="left:487.5px;top:752.5px;font-size:18.5px;line-height:18.5px"><svg style="display:inline;position:static;vertical-align:baseline;overflow:visible;width:0.5562em;height:0.75em;" viewBox="0 -1536 1139 1536"><path transform="scale(1,-1)" d="M934 0H431V890L72 920V1180L500 1466H934Z" fill="#000" fill-rule="evenodd"/></svg></div>
<div class="t" style="left:499.5px;letter-spacing:1.0px">(Log</div>
<div class="t" style="left:569px;letter-spacing:0.3px">[c]</div>
<div class="t" style="left:606px;letter-spacing:1.4px">ng/mL)</div>
<div class="lg" style="top:336px"><svg style="display:inline;position:static;vertical-align:baseline;overflow:visible;width:0.5562em;height:0.75em;margin-right:2px;margin-left:-2px;" viewBox="0 -1536 1139 1536"><path transform="scale(1,-1)" d="M763 0H583V1147Q518 1085 412 1023Q306 961 222 930V1104Q373 1175 486 1276Q599 1377 646 1472H763Z" fill="#000" fill-rule="evenodd" stroke="#000" stroke-width="44" stroke-linejoin="miter"/></svg>% gelatin</div>
<div class="lg" style="top:380px"><svg style="display:inline;position:static;vertical-align:baseline;overflow:visible;width:0.5562em;height:0.75em;margin-right:2px;margin-left:-2px;" viewBox="0 -1536 1139 1536"><path transform="scale(1,-1)" d="M763 0H583V1147Q518 1085 412 1023Q306 961 222 930V1104Q373 1175 486 1276Q599 1377 646 1472H763Z" fill="#000" fill-rule="evenodd" stroke="#000" stroke-width="44" stroke-linejoin="miter"/></svg>% BSA</div>
<div class="lg" style="top:426px"><svg style="display:inline;position:static;vertical-align:baseline;overflow:visible;width:0.5562em;height:0.75em;margin-right:2px;margin-left:-2px;" viewBox="0 -1536 1139 1536"><path transform="scale(1,-1)" d="M763 0H583V1147Q518 1085 412 1023Q306 961 222 930V1104Q373 1175 486 1276Q599 1377 646 1472H763Z" fill="#000" fill-rule="evenodd" stroke="#000" stroke-width="44" stroke-linejoin="miter"/></svg>% OVA</div>
<div class="lg" style="top:472px">no blocking</div>
</div></body></html>
